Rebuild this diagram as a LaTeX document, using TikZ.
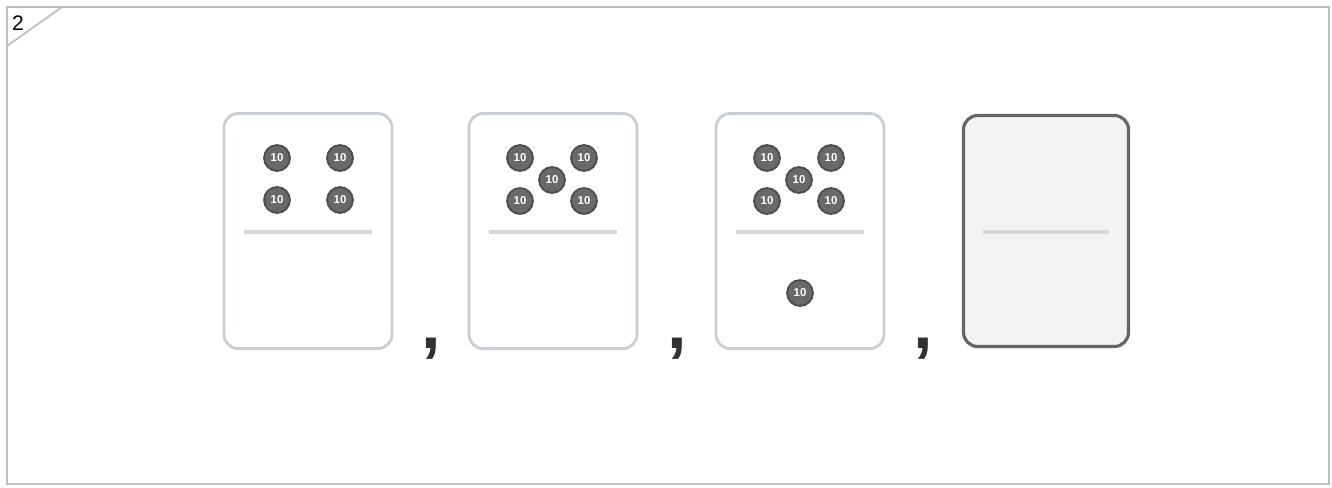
\documentclass[tikz,border=0pt]{standalone}
\usepackage{fontspec}
\setmainfont{Liberation Sans}
\usetikzlibrary{shadows, positioning}
\definecolor{framecolor}{RGB}{190, 190, 190}
\definecolor{cardedge}{RGB}{200, 205, 214}
\definecolor{chipcolor}{RGB}{105, 105, 105}
\definecolor{chipedge}{RGB}{75, 75, 75}
\definecolor{rulecolor}{RGB}{215, 215, 215}
\definecolor{blankfill}{RGB}{243, 243, 243}
\definecolor{commacolor}{RGB}{50, 50, 50}

\begin{document}
\begin{tikzpicture}[
    x=0.02cm, y=-0.02cm,
    card/.style={draw=cardedge, line width=1.6pt, fill=white, rounded corners=8pt, minimum width=3.36cm, minimum height=4.7cm, drop shadow={shadow xshift=0pt, shadow yshift=-1pt, opacity=0.2}},
    blank/.style={draw=gray!80!black, line width=1.8pt, fill=blankfill, rounded corners=8pt, minimum width=3.3cm, minimum height=4.62cm, drop shadow={shadow xshift=0pt, shadow yshift=-1pt, opacity=0.25}},
    chip/.style={circle, draw=chipedge, line width=1pt, fill=chipcolor, minimum size=0.52cm, inner sep=0pt, text=white, font=\fontsize{6.5}{6.5}\selectfont\bfseries},
    sep/.style={text=commacolor, font=\fontsize{40}{40}\selectfont\bfseries, inner sep=0pt},
    divider/.style={draw=rulecolor, line width=2pt}
]
    \useasboundingbox (0,0) rectangle (1332,487);
    
    % Frame
    \draw[framecolor, line width=1.2pt] (7,7) rectangle (1329,484);
    \coordinate (tagtop) at (62,7);
    \coordinate (tagleft) at (7,46);
    \draw[framecolor, line width=1pt] (tagleft) -- (tagtop);
    \node[font=\fontsize{12}{12}\selectfont] (tag) at (18,23) {2};
    
    % Cards
    \node[card] (cardA) at (308,231) {};
    \node[card] (cardB) at (553,231) {};
    \node[card] (cardC) at (800,231) {};
    \node[blank] (cardD) at (1046,231) {};
    
    % Dividers
    \foreach \c in {A,B,C,D}
        \draw[divider] ([xshift=0.42cm]card\c.west |- 0,232) -- ([xshift=-0.42cm]card\c.east |- 0,232);
    
    % Chips
    \node[chip] (a1) at (277,158) {10};
    \node[chip] (a2) at (340,158) {10};
    \node[chip] (a3) at (277,200) {10};
    \node[chip] (a4) at (340,200) {10};
    
    \node[chip] (b1) at (520,158) {10};
    \node[chip] (b2) at (584,158) {10};
    \node[chip] (b3) at (552,180) {10};
    \node[chip] (b4) at (520,201) {10};
    \node[chip] (b5) at (584,201) {10};
    
    \node[chip] (c1) at (767,158) {10};
    \node[chip] (c2) at (831,158) {10};
    \node[chip] (c3) at (799,180) {10};
    \node[chip] (c4) at (767,201) {10};
    \node[chip] (c5) at (831,201) {10};
    \node[chip] (c6) at (800,293) {10};
    
    % Commas
    \node[sep] (comA) at (431,349) {,};
    \node[sep] (comB) at (677,349) {,};
    \node[sep] (comC) at (923,349) {,};
    
\end{tikzpicture}
\end{document}
